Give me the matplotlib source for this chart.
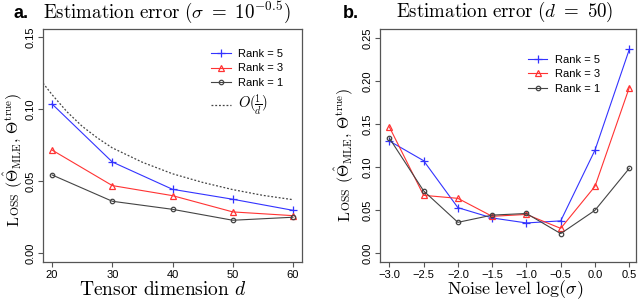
import numpy as np
import matplotlib
matplotlib.use('Agg')
import matplotlib.pyplot as plt

plt.rcParams['mathtext.fontset'] = 'cm'
plt.rcParams['font.family'] = ['Liberation Sans', 'DejaVu Sans']

# panel a: error vs tensor dimension (sigma = 10^-0.5)
dims = [20, 30, 40, 50, 60]
a_rank5 = [0.1035, 0.0632, 0.0442, 0.0373, 0.0296]
a_rank3 = [0.0715, 0.0468, 0.0398, 0.0285, 0.0259]
a_rank1 = [0.0542, 0.0359, 0.0303, 0.0227, 0.0248]
# reference curve O(1/d)
ref_d = [18.5, 20, 22.5, 25, 27.5, 30, 35, 40, 45, 50, 55, 60]
ref_y = [0.118, 0.110, 0.098, 0.088, 0.080, 0.073, 0.063, 0.055, 0.049, 0.044, 0.040, 0.037]

# panel b: error vs noise level (d = 50)
log_sigma = [-3.0, -2.5, -2.0, -1.5, -1.0, -0.5, 0.0, 0.5]
b_rank5 = [0.1306, 0.1077, 0.0531, 0.0411, 0.0353, 0.0377, 0.1200, 0.2370]
b_rank3 = [0.1470, 0.0674, 0.0639, 0.0430, 0.0452, 0.0290, 0.0779, 0.1927]
b_rank1 = [0.1340, 0.0726, 0.0360, 0.0444, 0.0463, 0.0229, 0.0500, 0.0988]

a_yticks = ['0.00', '0.05', '0.10', '0.15']
b_yticks = ['0.00', '0.05', '0.10', '0.15', '0.20', '0.25']
b_xticks = ['\u22123.0', '\u22122.5', '\u22122.0', '\u22121.5', '\u22121.0', '\u22120.5', '0.0', '0.5']

blue = '#3333ff'
red = '#ff3333'
black = '#444444'
frame = '#555555'

fig = plt.figure(figsize=(6.4, 3.04), dpi=100)
ax1 = fig.add_axes([0.0672, 0.1382, 0.4047, 0.7664])
ax2 = fig.add_axes([0.59375, 0.1382, 0.40, 0.7664])


def style(ax):
    for s in ax.spines.values():
        s.set_color(frame)
        s.set_linewidth(0.9)
    ax.tick_params(direction='out', length=3.5, width=0.8, color=frame,
                   labelsize=8, pad=2)
    ax.tick_params(axis='y', labelrotation=90)


lw = 0.8
ax1.plot(dims, a_rank5, color=blue, lw=lw, marker='+', ms=5.5, mew=0.9, label='Rank = 5')
ax1.plot(dims, a_rank3, color=red, lw=lw, marker='^', ms=4, mfc='none', mew=0.9, label='Rank = 3')
ax1.plot(dims, a_rank1, color=black, lw=lw, marker='o', ms=3.2, mfc='none', mew=0.9, label='Rank = 1')
ax1.plot(ref_d, ref_y, color=black, lw=0.9, ls=(0, (1.5, 1.5)), label=r'$O(\frac{1}{d})$')
ax1.set_xlim(18.5, 61.5)
ax1.set_ylim(-0.0063, 0.1556)
ax1.set_xticks(dims)
ax1.set_yticks([0.0, 0.05, 0.10, 0.15], a_yticks, va='center')
style(ax1)
leg1 = ax1.legend(loc='upper left', bbox_to_anchor=(0.632, 0.934), frameon=False, fontsize=8,
                  handlelength=1.75, labelspacing=0.42, handletextpad=0.7, borderaxespad=0)
leg1.get_texts()[3].set_fontsize(10.5)

ax2.plot(log_sigma, b_rank5, color=blue, lw=lw, marker='+', ms=5.5, mew=0.9, label='Rank = 5')
ax2.plot(log_sigma, b_rank3, color=red, lw=lw, marker='^', ms=4, mfc='none', mew=0.9, label='Rank = 3')
ax2.plot(log_sigma, b_rank1, color=black, lw=lw, marker='o', ms=3.2, mfc='none', mew=0.9, label='Rank = 1')
ax2.set_xlim(-3.136, 0.598)
ax2.set_ylim(-0.0101, 0.2608)
ax2.set_xticks(log_sigma, b_xticks)
ax2.set_yticks([0.0, 0.05, 0.10, 0.15, 0.20, 0.25], b_yticks, va='center')
style(ax2)
ax2.legend(loc='upper left', bbox_to_anchor=(0.56, 0.909), frameon=False, fontsize=8,
           handlelength=1.75, labelspacing=0.42, handletextpad=0.7, borderaxespad=0)

# titles and labels
fig.text(13 / 640, 1 - 13 / 304, 'a.', fontsize=13, fontweight='bold', va='center')
fig.text(43 / 640, 1 - 12 / 304, r'$\mathrm{Estimation\ error}\ (\sigma\ =\ 10^{-0.5})$',
         fontsize=13.6, va='center')
fig.text(343 / 640, 1 - 13 / 304, 'b.', fontsize=13, fontweight='bold', va='center')
fig.text(396 / 640, 1 - 12 / 304, r'$\mathrm{Estimation\ error}\ (d\ =\ 50)$',
         fontsize=13.6, va='center')

fig.text(163 / 640, 14 / 304, r'$\mathrm{Tensor\ dimension}\ d$', fontsize=14,
         ha='center', va='center')
fig.text(515 / 640, 14 / 304, r'$\mathrm{Noise\ level}\ \log(\sigma)$', fontsize=13,
         ha='center', va='center')


# y label with small caps "Loss", built from three rotated pieces
def small_caps_ylabel(x_px, yc, size):
    parts = [(r'$\mathrm{L}$', size),
             (r'$\mathrm{OSS}$', size * 0.74),
             (r'$\ (\hat{\Theta}_{\mathrm{MLE}},\, \Theta^{\mathrm{true}})$', size)]
    renderer = fig.canvas.get_renderer()
    texts = []
    y = 0.0
    for s, fs in parts:
        t = fig.text(0, 0, s, fontsize=fs, rotation=90, rotation_mode='anchor',
                     ha='left', va='baseline', transform=None)
        t.set_position((x_px, y))
        bb = t.get_window_extent(renderer)
        y = bb.y1 + 0.3
        texts.append(t)
    total = y
    shift = yc * fig.bbox.height - total / 2
    for t in texts:
        px, py = t.get_position()
        t.set_position((px, py + shift))


small_caps_ylabel(19, 0.474, 11.4)
small_caps_ylabel(350, 0.49, 11.4)

fig.savefig('out.png', dpi=100)
